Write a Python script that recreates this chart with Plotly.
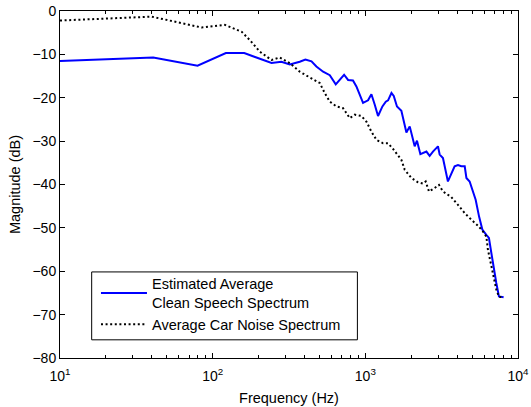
import plotly.graph_objects as go

# Estimated average clean speech spectrum
speech_freq = [10, 40.8, 79.6, 122, 161, 243, 282, 320, 372, 405, 444, 478, 529, 585, 640,
               726, 771, 830, 874, 919, 966, 1042, 1096, 1153, 1211, 1294, 1361, 1409, 1483,
               1535, 1612, 1722, 1790, 1858, 1953, 2105, 2179, 2294, 2512, 2638, 2773, 2990,
               3069, 3224, 3475, 3656, 3845, 4043, 4256, 4477, 4593, 4822, 5070, 5280, 5560,
               5840, 6200, 6450, 6690, 6920, 7210, 7500, 8050]
speech_db = [-11.5, -10.7, -12.6, -9.7, -9.7, -12.0, -11.7, -12.3, -11.7, -11.2, -11.6, -12.8,
             -14.0, -14.8, -16.9, -14.7, -15.9, -16.0, -17.4, -19.3, -21.2, -20.6, -19.2,
             -21.6, -24.2, -22.0, -20.9, -20.6, -18.9, -19.6, -22.0, -23.0, -25.5, -28.0,
             -26.6, -31.2, -29.9, -33.0, -32.4, -33.4, -32.4, -31.2, -33.1, -33.9, -39.3,
             -37.4, -35.8, -35.5, -35.8, -35.8, -38.5, -39.3, -41.6, -43.5, -47.4, -50.4,
             -51.6, -52.3, -55.8, -59.2, -62.7, -65.8, -66.0]

# Average car noise spectrum
noise_freq = [10, 39.8, 84.5, 120, 155, 175, 204, 243, 275, 320, 372, 433, 503, 542, 585, 647,
              715, 791, 853, 942, 1016, 1096, 1182, 1307, 1409, 1519, 1722, 1811, 2005, 2215,
              2388, 2485, 2611, 2847, 3036, 3224, 3656, 4043, 4477, 4943, 5468, 5888, 6205,
              6350, 6690, 6920, 7210, 7500, 7960]
noise_db = [-2.2, -1.3, -3.8, -3.2, -4.8, -6.7, -9.4, -11.3, -10.7, -12.0, -14.0, -15.3, -16.6,
            -18.9, -20.9, -22.0, -22.4, -24.7, -23.9, -24.2, -25.5, -27.8, -29.7, -30.5, -30.5,
            -31.8, -34.3, -36.6, -38.5, -39.5, -39.8, -39.3, -41.6, -40.8, -40.1, -41.6, -42.9,
            -44.7, -46.6, -48.1, -49.5, -50.8, -52.0, -55.0, -58.9, -61.9, -64.2, -65.9, -66.0]

x_tickvals = [10, 100, 1000, 10000]
x_ticktext = ["10<sup>1</sup>", "10<sup>2</sup>", "10<sup>3</sup>", "10<sup>4</sup>"]
x_minor_vals = [m * d for d in (10, 100, 1000) for m in range(2, 10)]
y_tickvals = [0, -10, -20, -30, -40, -50, -60, -70, -80]

FONT = "Liberation Sans, Arial, sans-serif"

fig = go.Figure()
fig.add_trace(go.Scatter(
    x=speech_freq, y=speech_db, mode="lines",
    name="Estimated Average<br>Clean Speech Spectrum",
    line=dict(color="#0000ff", width=2),
))
fig.add_trace(go.Scatter(
    x=noise_freq, y=noise_db, mode="lines",
    name="Average Car Noise Spectrum",
    line=dict(color="#000000", width=2, dash="2px,2.6px"),
))

axis_common = dict(
    showline=True, linecolor="black", linewidth=1, mirror="ticks",
    ticks="inside", ticklen=5, tickcolor="black", tickwidth=1,
    showgrid=False, zeroline=False, automargin=False,
    tickfont=dict(family=FONT, size=14, color="black"),
)

# legend frame (box drawn as a shape; legend entries sit on top of it)
fig.add_shape(type="rect", xref="paper", yref="paper",
              x0=(91.7 - 60) / 458.3, x1=(357.6 - 60) / 458.3,
              y0=(358.5 - 340.3) / 347.5, y1=(358.5 - 272.3) / 347.5,
              fillcolor="white", line=dict(color="black", width=1), layer="above")

fig.update_layout(
    width=531, height=407,
    margin=dict(l=60, r=12.7, t=11, b=48.5),
    paper_bgcolor="white", plot_bgcolor="white",
    font=dict(family=FONT, size=14, color="black"),
    showlegend=True,
    legend=dict(
        x=(96 - 60) / 458.3, y=(358.5 - 268) / 347.5, xanchor="left", yanchor="top",
        bgcolor="rgba(0,0,0,0)", borderwidth=0,
        font=dict(family=FONT, size=14.5, color="black"),
        itemwidth=46,
        tracegroupgap=0,
    ),
    xaxis=dict(
        type="log", range=[1, 4],
        tickvals=x_tickvals, ticktext=x_ticktext,
        ticklabelstandoff=5,
        minor=dict(tickvals=x_minor_vals, ticks="inside", ticklen=3,
                   tickcolor="black", showgrid=False),
        title=dict(text="Frequency (Hz)", font=dict(family=FONT, size=14.5), standoff=10),
        **axis_common,
    ),
    yaxis=dict(
        range=[-80, 0], tickvals=y_tickvals,
        title=dict(text="Magnitude (dB)", font=dict(family=FONT, size=14.5), standoff=8),
        **axis_common,
    ),
)

fig.write_html("out.html")
